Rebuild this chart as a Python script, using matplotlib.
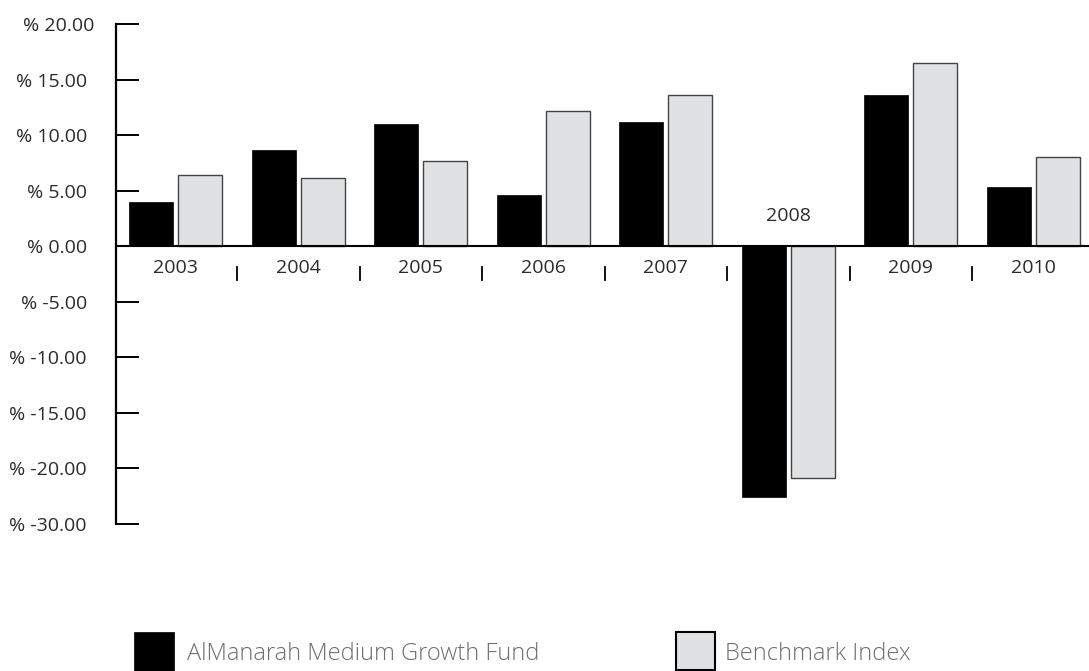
import matplotlib.pyplot as plt
from matplotlib.patches import Rectangle
from matplotlib.transforms import ScaledTranslation
import numpy as np

plt.rcParams['font.family'] = ['Open Sans', 'DejaVu Sans']

years = ['2003', '2004', '2005', '2006', '2007', '2008', '2009', '2010']
fund = [4.0, 8.7, 11.0, 4.6, 11.2, -22.6, 13.6, 5.3]
bench = [6.4, 6.1, 7.7, 12.2, 13.6, -20.9, 16.5, 8.0]
ytick_vals = [20, 15, 10, 5, 0, -5, -10, -15, -20, -25]
ytick_labels = ['% 20.00', '% 15.00', '% 10.00', '% 5.00', '% 0.00',
                '% -5.00', '% -10.00', '% -15.00', '% -20.00', '% -30.00']
series_names = ['AlManarah Medium Growth Fund', 'Benchmark Index']

W, H = 1089, 671
fig = plt.figure(figsize=(W / 100, H / 100), dpi=100)
ax = fig.add_axes([116 / W, (H - 524) / H, (W - 116) / W, 500 / H])

x = np.arange(len(years))
ax.bar(x - 0.2, fund, width=0.36, color='black', edgecolor='black', linewidth=0.5)
ax.bar(x + 0.2, bench, width=0.36, color='#e0e1e3', edgecolor='#444444', linewidth=1.0)

ax.set_xlim(-0.488, 7.455)
ax.set_ylim(-25, 20)

ax.axhline(0, color='black', linewidth=1.5, zorder=3)

for s in ['top', 'right', 'bottom']:
    ax.spines[s].set_visible(False)
ax.spines['left'].set_linewidth(1.6)

ax.set_xticks([])
ax.set_yticks(ytick_vals)
ax.set_yticklabels(ytick_labels)
ax.tick_params(axis='y', direction='in', length=16.5, width=1.4, pad=21,
               labelsize=14, labelcolor='#2b2b2b')
# the top label sits a little further right in the original
top = ax.get_yticklabels()[0]
top.set_transform(top.get_transform() + ScaledTranslation(0.08, 0, fig.dpi_scale_trans))

# year labels under (or above, for the negative year) the zero line
for i, yr in enumerate(years):
    if fund[i] < 0:
        ax.text(i, 2.7, yr, ha='center', va='center', fontsize=14, color='#2b2b2b')
    else:
        ax.text(i, -1.92, yr, ha='center', va='center', fontsize=14, color='#2b2b2b')

# little separators between the years
for b in x[:-1] + 0.5:
    ax.plot([b, b], [-1.85, -3.0], color='black', linewidth=1.3, clip_on=False)

# legend
fig.patches.append(Rectangle((134 / W, 0), 40 / W, (H - 632) / H, transform=fig.transFigure,
                             facecolor='black', edgecolor='black', linewidth=0.5))
fig.text(187 / W, (H - 653.5) / H, series_names[0], ha='left', va='center',
         fontsize=17, color='#6d6e71', fontweight='light')
fig.patches.append(Rectangle((676 / W, 1 / H), 39 / W, (H - 633) / H, transform=fig.transFigure,
                             facecolor='#e0e1e3', edgecolor='black', linewidth=1.5))
fig.text(725 / W, (H - 653.5) / H, series_names[1], ha='left', va='center',
         fontsize=17, color='#6d6e71', fontweight='light')

fig.savefig('out.png', dpi=100)
